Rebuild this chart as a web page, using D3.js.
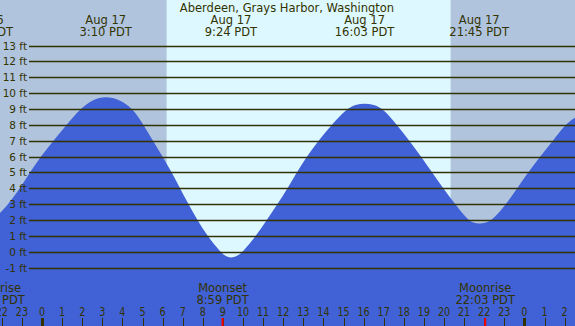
<!DOCTYPE html>
<html>
<head>
<meta charset="utf-8">
<script src="https://cdn.jsdelivr.net/npm/d3@7"></script>
<style>
  body { margin: 0; padding: 0; background: #fff; }
  svg { display: block; }
  text { font-family: "DejaVu Sans", sans-serif; fill: #333300; }
</style>
</head>
<body>
<div id="chart"></div>
<script>
// hours are counted from midnight Aug 17 (negative = Aug 16, >24 = Aug 18)
var tideHours = [-2.09, -1.68, -1.09, -0.60, -0.06, 0.56, 1.23, 1.89, 2.53, 3.17, 3.86, 4.54, 5.04, 5.52, 6.0, 6.45,
  6.87, 7.28, 7.73, 8.22, 8.86, 9.13, 9.40, 9.70, 10.01, 10.65, 11.18, 11.72, 12.22, 12.68, 13.17, 13.75, 14.41,
  15.16, 15.6, 16.05, 16.5, 16.98, 17.65, 18.28, 18.86, 19.40, 19.96, 20.55, 21.18, 21.46, 21.75, 22.08, 22.42,
  23.10, 23.64, 24.19, 24.78, 25.42, 26.02, 26.52];
var tideFeet = [2.43, 3, 4, 5, 6, 7, 8, 9, 9.6, 9.8, 9.6, 9, 8, 7, 6, 5,
  4, 3, 2, 1, 0, -0.3, -0.4, -0.3, 0, 1, 2, 3, 4, 5, 6, 7, 8,
  9, 9.27, 9.36, 9.27, 9, 8, 7, 6, 5, 4, 3, 2, 1.82, 1.75, 1.82, 2,
  3, 4, 5, 6, 7, 8, 8.45];

var extremeHours = [-2.92, 3.167, 9.4, 16.05, 21.75];
var extremeDays = ["Aug 16", "Aug 17", "Aug 17", "Aug 17", "Aug 17"];
var extremeTimes = ["21:05 PDT", "3:10 PDT", "9:24 PDT", "16:03 PDT", "21:45 PDT"];

var moonHours = [-2.34, 8.983, 22.05];
var moonNames = ["Moonrise", "Moonset", "Moonrise"];
var moonTimes = ["21:40 PDT", "8:59 PDT", "22:03 PDT"];

var sunrise = 6.2, sunset = 20.33;
var footTicks = d3.range(-1, 14);
var hourTicks = d3.range(-2, 27);

var W = 575, H = 326;
var svg = d3.select("#chart").append("svg")
  .attr("width", W).attr("height", H);

var x = d3.scaleLinear().domain([0, 24]).range([42, 524.4]);
var y = d3.scaleLinear().domain([-1, 13]).range([267.5, 45.5]);

// night / day background
svg.append("rect").attr("x", 0).attr("y", 0).attr("width", W).attr("height", H)
  .attr("fill", "#b0c4de");
svg.append("rect").attr("x", x(sunrise)).attr("y", 0)
  .attr("width", x(sunset) - x(sunrise)).attr("height", H)
  .attr("fill", "#ddf8ff");

// tide area
var pts = tideHours.map(function(h, i) { return [h, tideFeet[i]]; });
var area = d3.area()
  .x(function(d) { return x(d[0]); })
  .y0(H)
  .y1(function(d) { return y(d[1]); })
  .curve(d3.curveBasis);
svg.append("path").datum(pts).attr("d", area).attr("fill", "#4161d6");

// gridlines + foot labels
svg.selectAll("line.grid").data(footTicks).enter().append("line")
  .attr("class", "grid")
  .attr("x1", 29).attr("x2", W)
  .attr("y1", function(d) { return Math.round(y(d)) + 0.5; })
  .attr("y2", function(d) { return Math.round(y(d)) + 0.5; })
  .attr("stroke", "#333300").attr("stroke-width", 1.3);
svg.selectAll("text.ft").data(footTicks).enter().append("text")
  .attr("class", "ft")
  .attr("x", 27).attr("y", function(d) { return y(d) + 4; })
  .attr("text-anchor", "end")
  .style("font-size", "10.5px")
  .text(function(d) { return d + " ft"; });

// title
svg.append("text").attr("x", 287).attr("y", 11.7).attr("text-anchor", "middle")
  .style("font-size", "11.5px").text("Aberdeen, Grays Harbor, Washington");

// tide extreme labels
extremeHours.forEach(function(h, i) {
  svg.append("text").attr("x", x(h)).attr("y", 23.5).attr("text-anchor", "middle")
    .style("font-size", "11.5px").text(extremeDays[i]);
  svg.append("text").attr("x", x(h)).attr("y", 35.5).attr("text-anchor", "middle")
    .style("font-size", "11.5px").text(extremeTimes[i]);
});

// moon labels
moonHours.forEach(function(h, i) {
  svg.append("text").attr("x", x(h)).attr("y", 291.7).attr("text-anchor", "middle")
    .style("font-size", "11.5px").text(moonNames[i]);
  svg.append("text").attr("x", x(h)).attr("y", 303.7).attr("text-anchor", "middle")
    .style("font-size", "11.5px").text(moonTimes[i]);
});

// hour ticks and labels
svg.selectAll("line.hr").data(hourTicks).enter().append("line")
  .attr("class", "hr")
  .attr("x1", function(d) { return Math.round(x(d)) + 0.5; })
  .attr("x2", function(d) { return Math.round(x(d)) + 0.5; })
  .attr("y1", 318).attr("y2", H)
  .attr("stroke", "#333300")
  .attr("stroke-width", function(d) { return d % 24 === 0 ? 3 : 1; });
svg.selectAll("text.hr").data(hourTicks).enter().append("text")
  .attr("class", "hr")
  .attr("transform", function(d) { return "translate(" + x(d) + ",315.7) scale(0.8,1)"; })
  .attr("text-anchor", "middle")
  .style("font-size", "12px")
  .text(function(d) { return ((d % 24) + 24) % 24; });

// moon event ticks
svg.selectAll("line.moon").data(moonHours).enter().append("line")
  .attr("class", "moon")
  .attr("x1", function(d) { return x(d); })
  .attr("x2", function(d) { return x(d); })
  .attr("y1", 318).attr("y2", H)
  .attr("stroke", "#ff0000").attr("stroke-width", 2);
</script>
</body>
</html>
